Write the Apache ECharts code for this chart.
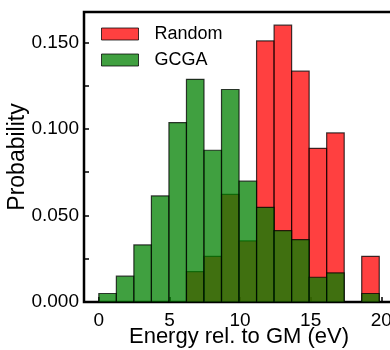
<!DOCTYPE html>
<html>
<head>
<meta charset="utf-8">
<script src="https://cdn.jsdelivr.net/npm/echarts@6/dist/echarts.min.js"></script>
<style>
  html, body { margin: 0; padding: 0; background: #fff; }
  #chart { width: 390px; height: 350px; }
</style>
</head>
<body>
<div id="chart"></div>
<script>
// Histogram bins: equal-width bins starting at 0 eV
const binStart = 0;
const binWidth = 1.241;
// Probability density per bin
const randomProb = [0, 0, 0, 0, 0, 0.0176, 0.0264, 0.0622, 0.0353, 0.1509, 0.1600, 0.1334, 0.0888, 0.0977, 0, 0.0264];
const gcgaProb   = [0.0049, 0.0149, 0.0330, 0.0613, 0.1037, 0.1287, 0.0877, 0.1228, 0.0698, 0.0547, 0.0413, 0.0361, 0.0143, 0.0168, 0, 0.0049];
const xTicks = [0, 5, 10, 15, 20];
const yTicks = [0, 0.025, 0.05, 0.075, 0.1, 0.125, 0.15];
const yLabels = [0, 0.05, 0.1, 0.15];

const FONT = '"Liberation Sans", Arial, sans-serif';

function toBins(values) {
  return values.map((v, i) => [binStart + i * binWidth, binStart + (i + 1) * binWidth, v]);
}

function histSeries(name, values, fill) {
  return {
    name: name,
    type: 'custom',
    clip: true,
    itemStyle: { color: fill, borderColor: 'rgba(0,0,0,0.75)', borderWidth: 1 },
    encode: { x: [0, 1], y: 2 },
    data: toBins(values),
    renderItem: function (params, api) {
      const h = api.value(2);
      if (!h) return null;
      const topLeft = api.coord([api.value(0), h]);
      const bottomRight = api.coord([api.value(1), 0]);
      return {
        type: 'rect',
        shape: {
          x: topLeft[0],
          y: topLeft[1],
          width: bottomRight[0] - topLeft[0],
          height: bottomRight[1] - topLeft[1]
        },
        style: { fill: fill, stroke: 'rgba(0,0,0,0.75)', lineWidth: 1.2 }
      };
    }
  };
}

const chart = echarts.init(document.getElementById('chart'), null, { renderer: 'canvas' });
chart.setOption({
  animation: false,
  backgroundColor: '#ffffff',
  grid: {
    left: 84, top: 12, width: 310, height: 290,
    containLabel: false,
    outerBoundsMode: 'none',
    show: true, borderColor: '#000', borderWidth: 2.5, backgroundColor: 'transparent'
  },
  legend: {
    orient: 'vertical',
    left: 101,
    top: 25,
    padding: 0,
    itemWidth: 37,
    itemHeight: 12,
    itemGap: 8,
    icon: 'rect',
    itemStyle: { borderColor: 'rgba(0,0,0,0.75)', borderWidth: 1 },
    textStyle: { fontFamily: FONT, fontSize: 18, color: '#000', padding: [0, 0, 0, 11] },
    data: ['Random', 'GCGA']
  },
  xAxis: {
    type: 'value',
    min: -1.05,
    max: 20.9,
    name: 'Energy rel. to GM (eV)',
    nameLocation: 'middle',
    nameMoveOverlap: false,
    nameGap: 24,
    nameTextStyle: { fontFamily: FONT, fontSize: 22, color: '#000' },
    axisLine: { show: false, onZero: false },
    splitLine: { show: false },
    axisTick: { show: true, inside: true, length: 5, lineStyle: { color: '#000', width: 1.5 }, customValues: xTicks },
    axisLabel: { fontFamily: FONT, fontSize: 19, color: '#000', margin: 9, customValues: xTicks }
  },
  yAxis: {
    type: 'value',
    min: 0,
    max: 0.1676,
    name: 'Probability',
    nameLocation: 'middle',
    nameMoveOverlap: false,
    nameGap: 55,
    nameTextStyle: { fontFamily: FONT, fontSize: 23, color: '#000' },
    axisLine: { show: false, onZero: false },
    splitLine: { show: false },
    axisTick: { show: true, inside: true, length: 5, lineStyle: { color: '#000', width: 1.5 }, customValues: yTicks },
    axisLabel: {
      fontFamily: FONT, fontSize: 19, color: '#000', margin: 5,
      customValues: yLabels,
      formatter: v => v.toFixed(3)
    }
  },
  series: [
    histSeries('Random', randomProb, 'rgba(255,0,0,0.75)'),
    histSeries('GCGA', gcgaProb, 'rgba(0,128,0,0.75)')
  ]
});
</script>
</body>
</html>
